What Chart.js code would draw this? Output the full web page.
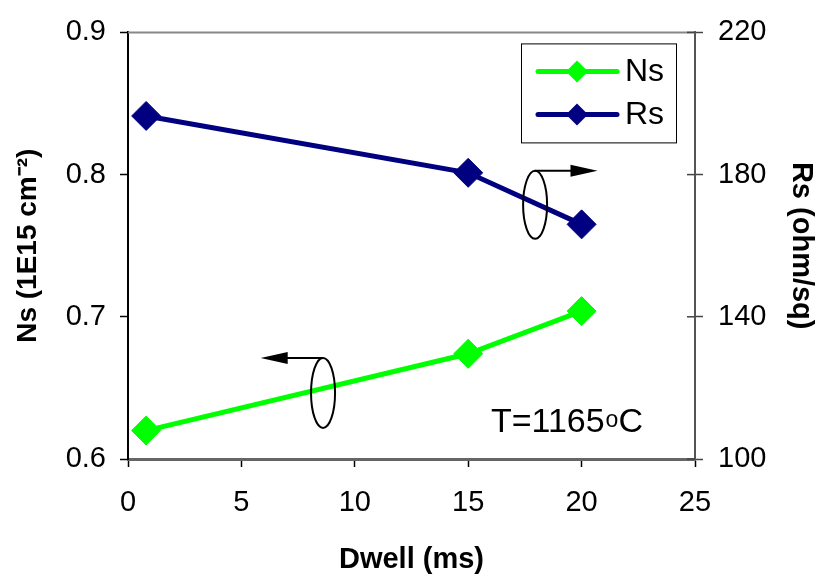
<!DOCTYPE html>
<html>
<head>
<meta charset="utf-8">
<script src="https://cdn.jsdelivr.net/npm/chart.js@4.4.0/dist/chart.umd.min.js"></script>
<style>
  html, body { margin: 0; padding: 0; background: #fff; }
</style>
</head>
<body>
<canvas id="chart" width="820" height="579"></canvas>
<script>
// Data
const dwell = [0.8, 15, 20];
const nsValues = [0.62, 0.674, 0.704];
const rsValues = [196.5, 180.5, 166];
const seriesNames = ['Ns', 'Rs'];
const seriesColors = ['#00FF00', '#000080'];

const FONT = '"Liberation Sans", Arial, Helvetica, sans-serif';

// helper: arrow + ellipse used to point each curve to its axis
function loopArrow(ctx, cx, cy, rx, ry, tipX) {
    const ay = cy - ry;
    const dir = tipX > cx ? 1 : -1;
    ctx.beginPath();
    ctx.ellipse(cx, cy, rx, ry, 0, 0, Math.PI * 2);
    ctx.stroke();
    ctx.beginPath();
    ctx.moveTo(cx, ay);
    ctx.lineTo(tipX - dir * 20, ay);
    ctx.stroke();
    ctx.beginPath();
    ctx.moveTo(tipX, ay);
    ctx.lineTo(tipX - dir * 27, ay - 6);
    ctx.lineTo(tipX - dir * 27, ay + 6);
    ctx.closePath();
    ctx.fill();
}

function diamond(ctx, x, y, r, color) {
    ctx.fillStyle = color;
    ctx.beginPath();
    ctx.moveTo(x - r, y);
    ctx.lineTo(x, y - r);
    ctx.lineTo(x + r, y);
    ctx.lineTo(x, y + r);
    ctx.closePath();
    ctx.fill();
}

const overlay = {
    id: 'overlay',
    afterDraw(chart) {
        const ctx = chart.ctx;
        const { left, right, top } = chart.chartArea;
        const xs = chart.scales.x, yl = chart.scales.yNs, yr = chart.scales.yRs;
        ctx.save();

        // top frame line
        ctx.strokeStyle = '#888';
        ctx.lineWidth = 2;
        ctx.beginPath();
        ctx.moveTo(left, top);
        ctx.lineTo(right, top);
        ctx.stroke();

        // right axis ticks cross the axis
        ctx.strokeStyle = '#444';
        ctx.lineWidth = 1.5;
        yr.ticks.forEach(t => {
            const py = yr.getPixelForValue(t.value);
            ctx.beginPath();
            ctx.moveTo(right - 8, py);
            ctx.lineTo(right, py);
            ctx.stroke();
        });

        // loops and arrows
        ctx.strokeStyle = '#000';
        ctx.fillStyle = '#000';
        ctx.lineWidth = 2;
        loopArrow(ctx, xs.getPixelForValue(17.95), yr.getPixelForValue(171.5), 12, 34, xs.getPixelForValue(20.7));
        loopArrow(ctx, xs.getPixelForValue(8.6), yl.getPixelForValue(0.6465), 12, 35, xs.getPixelForValue(5.85));

        // temperature label
        let tx = xs.getPixelForValue(16.0);
        const ty = yl.getPixelForValue(0.619);
        ctx.fillStyle = '#000';
        ctx.textBaseline = 'alphabetic';
        ctx.textAlign = 'left';
        ctx.font = '34px ' + FONT;
        ctx.fillText('T=1165', tx, ty);
        tx += ctx.measureText('T=1165').width + 1;
        ctx.font = '23px ' + FONT;
        ctx.fillText('o', tx, ty - 5);
        tx += ctx.measureText('o').width;
        ctx.font = '34px ' + FONT;
        ctx.fillText('C', tx, ty);

        // legend box
        const bx = right - 174, by = top + 11, bw = 155, bh = 99;
        ctx.fillStyle = '#fff';
        ctx.fillRect(bx, by, bw, bh);
        ctx.strokeStyle = '#000';
        ctx.lineWidth = 1;
        ctx.strokeRect(bx + 0.5, by + 0.5, bw, bh);
        ctx.font = '32px ' + FONT;
        ctx.textBaseline = 'middle';
        seriesNames.forEach((name, i) => {
            const ly = by + 28 + i * 43;
            ctx.strokeStyle = seriesColors[i];
            ctx.lineWidth = 5;
            ctx.lineCap = 'round';
            ctx.beginPath();
            ctx.moveTo(bx + 17, ly);
            ctx.lineTo(bx + 96, ly);
            ctx.stroke();
            diamond(ctx, bx + 56, ly, 11, seriesColors[i]);
            ctx.fillStyle = '#000';
            ctx.fillText(name, bx + 104, ly + 1);
        });
        ctx.restore();
    }
};

const tickFont = { family: FONT, size: 29 };
const titleFont = { family: FONT, size: 28, weight: 'bold' };

new Chart(document.getElementById('chart'), {
    type: 'scatter',
    plugins: [overlay],
    data: {
        datasets: [
            {
                label: seriesNames[0],
                data: dwell.map((d, i) => ({ x: d, y: nsValues[i] })),
                yAxisID: 'yNs',
                showLine: true,
                borderColor: seriesColors[0],
                backgroundColor: seriesColors[0],
                borderWidth: 5,
                pointStyle: 'rectRot',
                pointRadius: 14.5,
                pointBorderWidth: 1,
                pointBorderColor: seriesColors[0],
                pointBackgroundColor: seriesColors[0]
            },
            {
                label: seriesNames[1],
                data: dwell.map((d, i) => ({ x: d, y: rsValues[i] })),
                yAxisID: 'yRs',
                showLine: true,
                borderColor: seriesColors[1],
                backgroundColor: seriesColors[1],
                borderWidth: 5,
                pointStyle: 'rectRot',
                pointRadius: 14.5,
                pointBorderWidth: 1,
                pointBorderColor: seriesColors[1],
                pointBackgroundColor: seriesColors[1]
            }
        ]
    },
    options: {
        responsive: false,
        animation: false,
        layout: { padding: { top: 27, left: 0, right: 0, bottom: 0 } },
        plugins: {
            legend: { display: false },
            tooltip: { enabled: false }
        },
        scales: {
            x: {
                type: 'linear',
                min: 0, max: 25,
                ticks: { stepSize: 5, font: tickFont, color: '#000', padding: 19, maxRotation: 0 },
                grid: { drawOnChartArea: false, tickLength: 8, tickColor: '#000', tickWidth: 1.5 },
                border: { color: '#666', width: 3 },
                title: { display: true, text: 'Dwell (ms)', font: { family: FONT, size: 29, weight: 'bold' }, color: '#000', padding: { top: 2, bottom: 2 } },
                afterFit(s) { s.height = 120; }
            },
            yNs: {
                position: 'left',
                min: 0.6, max: 0.9,
                ticks: { stepSize: 0.1, font: tickFont, color: '#000', padding: 14, callback: v => v.toFixed(1) },
                grid: { drawOnChartArea: false, tickLength: 8, tickColor: '#000', tickWidth: 1.5 },
                border: { color: '#000', width: 2 },
                title: { display: true, text: 'Ns (1E15 cm⁻²)', font: titleFont, color: '#000', padding: { top: 11, bottom: 11 } },
                afterFit(s) { s.width = 128; }
            },
            yRs: {
                position: 'right',
                min: 100, max: 220,
                ticks: { stepSize: 40, font: tickFont, color: '#000', padding: 15 },
                grid: { drawOnChartArea: false, tickLength: 8, tickColor: '#444', tickWidth: 1.5 },
                border: { color: '#555', width: 2 },
                title: { display: true, text: 'Rs (ohm/sq)', font: { family: FONT, size: 29, weight: 'bold' }, color: '#000', padding: { top: 2, bottom: 2 } },
                afterFit(s) { s.width = 125; }
            }
        }
    }
});
</script>
</body>
</html>
